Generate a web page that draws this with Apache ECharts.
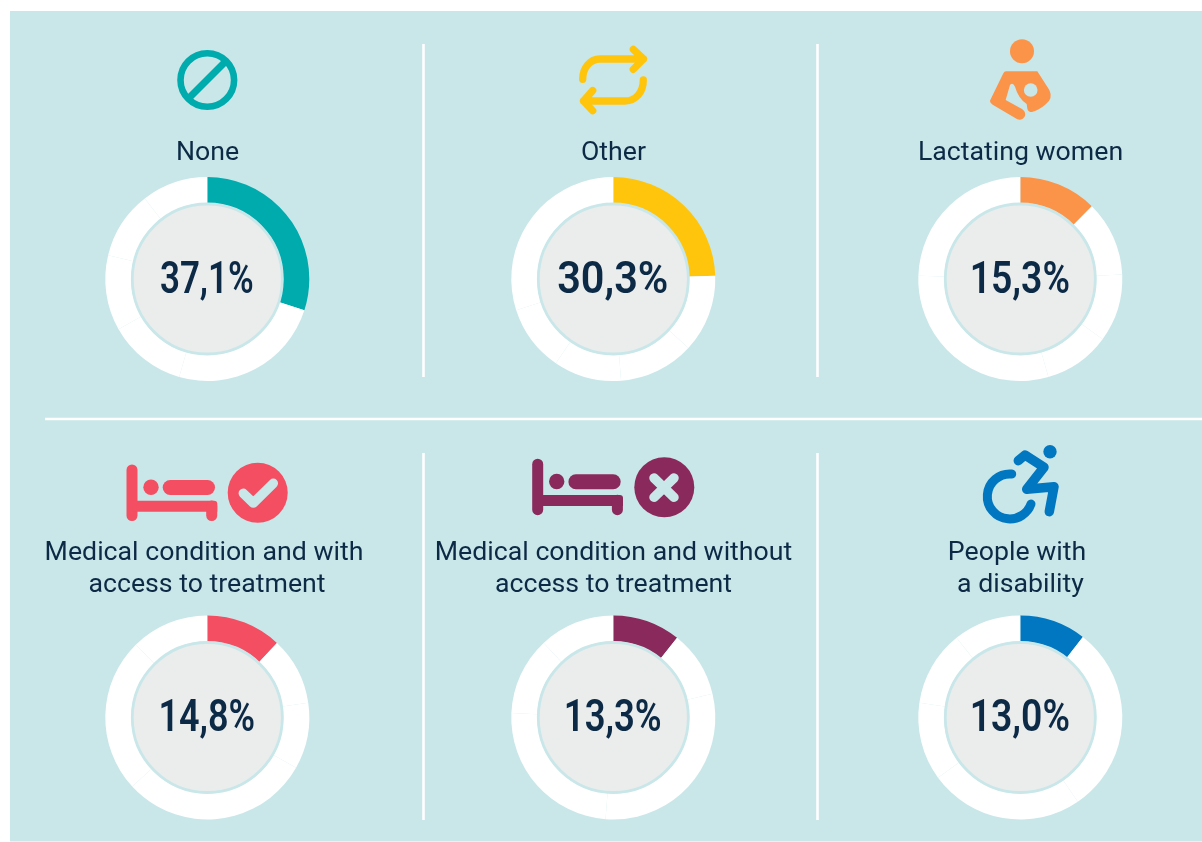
<!DOCTYPE html>
<html><head><meta charset="utf-8">
<style>html,body{margin:0;padding:0;background:#fff}#c{width:1202px;height:842px}</style>
<script src="https://cdn.jsdelivr.net/npm/echarts@6/dist/echarts.min.js"></script>
</head><body><div id="c"></div>
<script>
const categories = ['None','Other','Lactating women','Medical condition and with access to treatment','Medical condition and without access to treatment','People with a disability'];
const values = [37.1,30.3,15.3,14.8,13.3,13.0];
const percentLabels = ['37,1%','30,3%','15,3%','14,8%','13,3%','13,0%'];
const titleLines = [['None'],['Other'],['Lactating women'],['Medical condition and with','access to treatment'],['Medical condition and without','access to treatment'],['People with','a disability']];
const colors = ['#00abae','#ffc50c','#fb9449','#f44e62','#8a2a5c','#0077c0'];
const centersX = [207.3,613.3,1020.3,207.3,613.3,1020.3];
const centersY = [279,279,279,717.5,717.5,717.5];
const titleX = [[207.5],[613.5],[1020.5],[204,207],[613.5,613.5],[1017,1020.5]];
const titleY = [[153.5],[153.5],[153.5],[553.5,585.5],[553.5,585.5],[553.5,585.5]];
const percentScale = [0.775,0.92,0.83,0.80,0.81,0.83];

const BG='#c9e7e9', INK='#0c2a45';
const reg=(n,d)=>echarts.graphic.registerShape(n,echarts.graphic.extendPath(d));
reg('iconLact','M318,124 L412,124 L448,180 Q460,205 438,222 Q418,240 396,246 Q384,246 382,236 L380,222 Q355,205 345,170 Q338,155 330,165 L317,210 L366,237 Q378,245 375,258 Q368,272 352,268 L278,224 Q266,216 272,208 L310,130 Q313,124 318,124 Z');
reg('iconBase','M0,0 L82,0 Q85.3,0 85.3,3 L85.3,11 L0,11 Z');
reg('iconArrows','M582.7,79.3 C582.7,68 590,59 600,59 L643.5,59 M633.3,49.3 L643.5,59 L633.3,69.3 M643.3,80 C643.3,92 636,101 625,101 L583.5,101 M592.7,90.5 L583.5,101 L592.7,110.7');
reg('iconWheel','M1011.7,474 A22.5,22.5 0 1 0 1031,504');
reg('iconBody','M1018.3,460.7 L1025,455 L1044,467.3 L1026.7,489.3 L1054,486.7 L1049.3,511.7');

const strokeEl=(type,shape,color,w,extra)=>Object.assign({type,shape,silent:true,z:5,style:{stroke:color,lineWidth:w,fill:null,lineCap:'round',lineJoin:'round'}},extra||{});
const circleEl=(cx,cy,r,color)=>({type:'circle',shape:{cx,cy,r},silent:true,z:5,style:{fill:color}});
const lineEl=(x1,y1,x2,y2,color,w,cap)=>({type:'line',shape:{x1,y1,x2,y2},silent:true,z:5,style:{stroke:color,lineWidth:w,lineCap:cap||'round'}});

function bed(dx,dy,color){
  return [
    lineEl(132+dx,470+dy,132+dx,515.5+dy,color,11),
    circleEl(151+dx,487.3+dy,7.7,color),
    lineEl(170.2+dx,487.5+dy,207.5+dx,487.5+dy,color,15),
    {type:'iconBase',x:132+dx,y:500.7+dy,silent:true,z:5,style:{fill:color}},
    lineEl(211.7+dx,506+dy,211.7+dx,515.5+dy,color,11)
  ];
}
const icons=[
  strokeEl('circle',{cx:207.3,cy:80,r:26.8},colors[0],6.6),
  lineEl(190,97,225,62,colors[0],7,'butt'),
  strokeEl('iconArrows',{},colors[1],7.3),
  circleEl(1022,51.3,12,colors[2]),
  {type:'iconLact',x:900,y:30,scaleX:1/3,scaleY:1/3,silent:true,z:5,style:{fill:colors[2]}},
  {type:'circle',shape:{cx:1030.7,cy:90,r:6.8},silent:true,z:6,style:{fill:BG}},
  ...bed(0,0,colors[3]),
  circleEl(257.7,492.7,30,colors[3]),
  {type:'polyline',shape:{points:[[243.3,493.3],[253.3,503],[273.3,483.3]]},silent:true,z:6,style:{stroke:BG,lineWidth:9.5,fill:null,lineCap:'round',lineJoin:'round'}},
  ...bed(405.7,-5.8,colors[4]),
  circleEl(664.3,487.3,30,colors[4]),
  {type:'line',shape:{x1:654,y1:478,x2:674,y2:497.3},silent:true,z:6,style:{stroke:BG,lineWidth:9.5,lineCap:'round'}},
  {type:'line',shape:{x1:674,y1:478,x2:654,y2:497.3},silent:true,z:6,style:{stroke:BG,lineWidth:9.5,lineCap:'round'}},
  circleEl(1050,451.7,6.7,colors[5]),
  strokeEl('iconWheel',{},colors[5],9),
  strokeEl('iconBody',{},colors[5],9.5)
];

const rules=[
  lineEl(423.5,44,423.5,377,'#fff',2.6,'butt'),
  lineEl(817.5,44,817.5,377,'#fff',2.6,'butt'),
  lineEl(423.5,453,423.5,820,'#fff',2.6,'butt'),
  lineEl(817.5,453,817.5,820,'#fff',2.6,'butt'),
  lineEl(45,419,1202,419,'#fff',2.6,'butt')
];

const texts=[];
titleLines.forEach((lines,i)=>lines.forEach((t,j)=>texts.push({type:'text',x:titleX[i][j],y:titleY[i][j],silent:true,z:5,
  style:{text:t,fill:INK,font:'400 26.7px Roboto',textAlign:'center',textVerticalAlign:'middle'}})));

const discs=[], pcts=[];
centersX.forEach((cx,i)=>{
  discs.push({type:'circle',shape:{cx,cy:centersY[i],r:75},silent:true,z:5,style:{fill:'#ebeded',stroke:BG,lineWidth:2.8}});
  pcts.push({type:'text',x:cx-0.5,y:centersY[i]+2.5,scaleX:percentScale[i],silent:true,z:6,
    style:{text:percentLabels[i],fill:INK,font:'600 45px Roboto',textAlign:'center',textVerticalAlign:'middle'}});
});

const series=categories.map((_,i)=>{
  const order=values.map((_,k)=>(i+k)%values.length);
  return {
    type:'pie',silent:true,animation:false,startAngle:90,clockwise:true,
    radius:[76,102],center:[centersX[i],centersY[i]],
    label:{show:false},labelLine:{show:false},
    data:order.map((k,idx)=>({name:categories[k],value:values[k],itemStyle:{color:idx===0?colors[i]:'#fff'}}))
  };
});

const chart=echarts.init(document.getElementById('c'),null,{renderer:'canvas'});
chart.setOption({
  animation:false,backgroundColor:'#fff',
  graphic:{elements:[
    {type:'rect',shape:{x:10,y:11,width:1192,height:830.5},silent:true,z:-10,style:{fill:BG}},
    ...rules,...icons,...texts,...discs,...pcts
  ]},
  series
});
</script></body></html>
